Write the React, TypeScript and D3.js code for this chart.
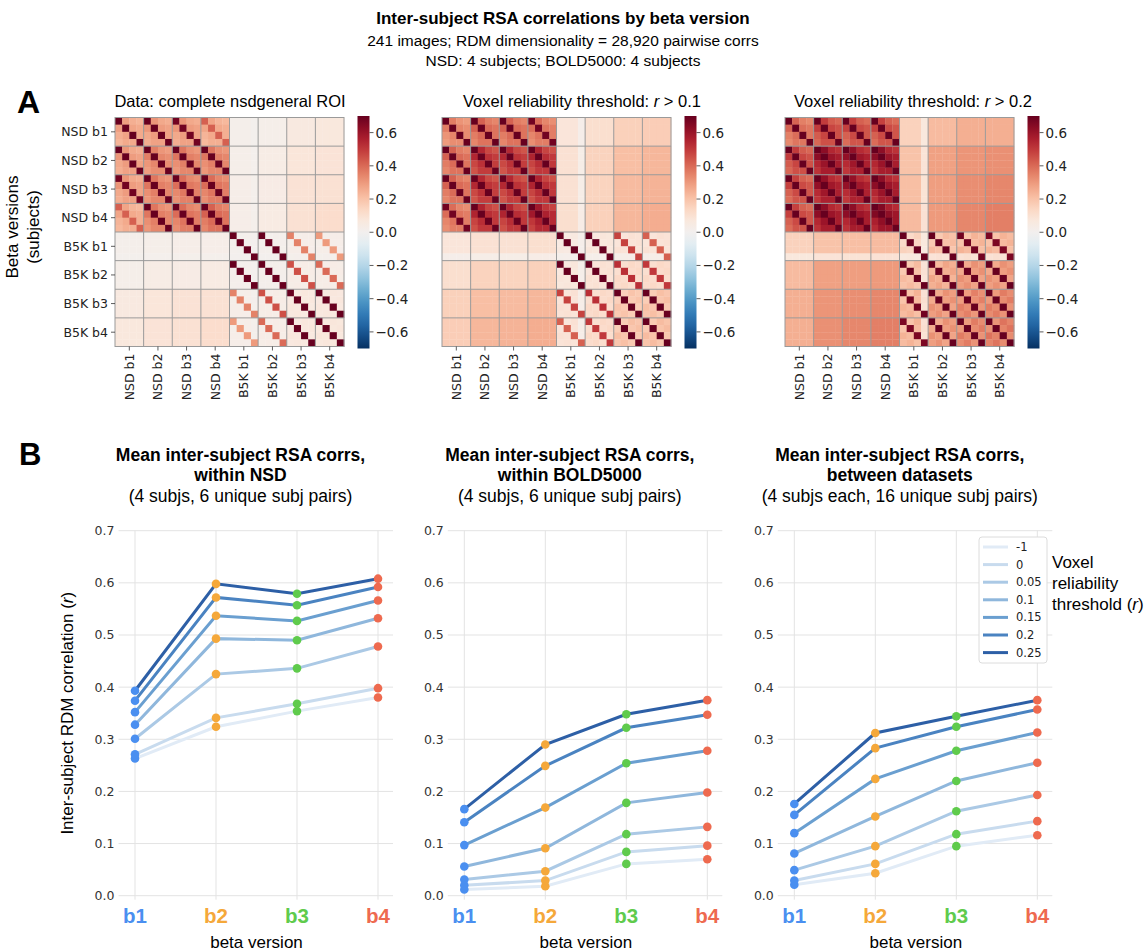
import React from "react";
import * as d3 from "d3";

// ---------- data ----------
const GROUPS = ["NSD b1", "NSD b2", "NSD b3", "NSD b4", "B5K b1", "B5K b2", "B5K b3", "B5K b4"];
const N_SUBJ = 4;
const CBAR_TICKS = [0.6, 0.4, 0.2, 0.0, -0.2, -0.4, -0.6];

// mean inter-subject corr per block (rows/cols = GROUPS)
const OFF_FULL = [
  [0.263, 0.28, 0.28, 0.25, 0.02, 0.025, 0.06, 0.07],
  [0.28, 0.324, 0.34, 0.34, 0.025, 0.043, 0.08, 0.09],
  [0.28, 0.34, 0.354, 0.36, 0.03, 0.045, 0.095, 0.1],
  [0.25, 0.34, 0.36, 0.38, 0.03, 0.05, 0.1, 0.116],
  [0.02, 0.025, 0.03, 0.03, 0.012, 0.015, 0.03, 0.03],
  [0.025, 0.043, 0.045, 0.05, 0.015, 0.018, 0.035, 0.035],
  [0.06, 0.08, 0.095, 0.1, 0.03, 0.035, 0.061, 0.065],
  [0.07, 0.09, 0.1, 0.116, 0.03, 0.035, 0.065, 0.07],
];
const OFF_R01 = [
  [0.328, 0.38, 0.38, 0.36, 0.081, 0.11, 0.16, 0.17],
  [0.38, 0.493, 0.49, 0.5, 0.1, 0.152, 0.21, 0.23],
  [0.38, 0.49, 0.49, 0.5, 0.1, 0.15, 0.22, 0.24],
  [0.36, 0.5, 0.5, 0.532, 0.11, 0.16, 0.23, 0.255],
  [0.081, 0.1, 0.1, 0.11, 0.056, 0.07, 0.09, 0.09],
  [0.11, 0.152, 0.15, 0.16, 0.07, 0.091, 0.12, 0.12],
  [0.16, 0.21, 0.22, 0.23, 0.09, 0.12, 0.178, 0.19],
  [0.17, 0.23, 0.24, 0.255, 0.09, 0.12, 0.19, 0.198],
];
const OFF_R02 = [
  [0.374, 0.45, 0.44, 0.44, 0.155, 0.22, 0.25, 0.25],
  [0.45, 0.572, 0.56, 0.57, 0.2, 0.283, 0.31, 0.32],
  [0.44, 0.56, 0.557, 0.57, 0.21, 0.29, 0.324, 0.34],
  [0.44, 0.57, 0.57, 0.592, 0.22, 0.3, 0.34, 0.357],
  [0.155, 0.2, 0.21, 0.22, 0.141, 0.2, 0.22, 0.22],
  [0.22, 0.283, 0.29, 0.3, 0.2, 0.249, 0.29, 0.29],
  [0.25, 0.31, 0.324, 0.34, 0.22, 0.29, 0.322, 0.33],
  [0.25, 0.32, 0.34, 0.357, 0.22, 0.29, 0.33, 0.347],
];
// same-subject corr across beta versions (within a dataset)
const SAME_FULL = [
  [1, 0.75, 0.68, 0.42, 0, 0, 0, 0],
  [0.75, 1, 0.75, 0.75, 0, 0, 0, 0],
  [0.68, 0.75, 1, 0.75, 0, 0, 0, 0],
  [0.42, 0.75, 0.75, 1, 0, 0, 0, 0],
  [0, 0, 0, 0, 1, 0.75, 0.35, 0.3],
  [0, 0, 0, 0, 0.75, 1, 0.45, 0.4],
  [0, 0, 0, 0, 0.35, 0.45, 1, 0.75],
  [0, 0, 0, 0, 0.3, 0.4, 0.75, 1],
];
const SAME_R01 = [
  [1, 0.75, 0.75, 0.68, 0, 0, 0, 0],
  [0.75, 1, 0.75, 0.75, 0, 0, 0, 0],
  [0.75, 0.75, 1, 0.75, 0, 0, 0, 0],
  [0.68, 0.75, 0.75, 1, 0, 0, 0, 0],
  [0, 0, 0, 0, 1, 0.75, 0.48, 0.42],
  [0, 0, 0, 0, 0.75, 1, 0.52, 0.5],
  [0, 0, 0, 0, 0.48, 0.52, 1, 0.75],
  [0, 0, 0, 0, 0.42, 0.5, 0.75, 1],
];
const SAME_R02 = [
  [1, 0.75, 0.75, 0.75, 0, 0, 0, 0],
  [0.75, 1, 0.75, 0.75, 0, 0, 0, 0],
  [0.75, 0.75, 1, 0.75, 0, 0, 0, 0],
  [0.75, 0.75, 0.75, 1, 0, 0, 0, 0],
  [0, 0, 0, 0, 1, 0.75, 0.68, 0.66],
  [0, 0, 0, 0, 0.75, 1, 0.72, 0.72],
  [0, 0, 0, 0, 0.68, 0.72, 1, 0.75],
  [0, 0, 0, 0, 0.66, 0.72, 0.75, 1],
];
// subject pair scaling of inter-subject corrs
const NSD_PAIR = [
  [1, 1.1, 0.95, 0.9],
  [1.1, 1, 1.05, 1.0],
  [0.95, 1.05, 1, 1.0],
  [0.9, 1.0, 1.0, 1],
];
const B5K_PAIR = [
  [1, 0.9, 1.1, 1.0],
  [0.9, 1, 1.0, 1.1],
  [1.1, 1.0, 1, 0.95],
  [1.0, 1.1, 0.95, 1],
];
// one weaker subject (B5K b1, subj 4)
const WEAK_IDX = 19;
const WEAK_FACTOR = [0.5, 0.35, 0.45];

const HEAT_TITLES = ["Data: complete nsdgeneral ROI", "0.1", "0.2"];

const BETAS = ["b1", "b2", "b3", "b4"];
const BETA_COLORS = ["#4a8ff0", "#f5a83a", "#5fcb4c", "#ee6a4f"];
const THRESHOLDS = ["-1", "0", "0.05", "0.1", "0.15", "0.2", "0.25"];
const THRESH_COLORS = ["#e1ebf6", "#c8dbee", "#abc9e5", "#8fb7dc", "#6a9fd0", "#4a83c1", "#2d5fa6"];
const Y_TICKS = [0, 0.1, 0.2, 0.3, 0.4, 0.5, 0.6, 0.7];

const NSD_CORRS = [
  [0.263, 0.324, 0.354, 0.38],
  [0.271, 0.341, 0.368, 0.398],
  [0.301, 0.425, 0.436, 0.478],
  [0.328, 0.493, 0.49, 0.532],
  [0.352, 0.537, 0.527, 0.566],
  [0.374, 0.572, 0.557, 0.592],
  [0.393, 0.598, 0.579, 0.608],
];
const B5K_CORRS = [
  [0.012, 0.018, 0.061, 0.07],
  [0.02, 0.029, 0.084, 0.096],
  [0.031, 0.047, 0.118, 0.132],
  [0.056, 0.091, 0.178, 0.198],
  [0.097, 0.169, 0.254, 0.278],
  [0.141, 0.249, 0.322, 0.347],
  [0.166, 0.29, 0.348, 0.375],
];
const BETWEEN_CORRS = [
  [0.021, 0.043, 0.095, 0.116],
  [0.029, 0.061, 0.118, 0.143],
  [0.049, 0.095, 0.162, 0.193],
  [0.081, 0.152, 0.22, 0.255],
  [0.12, 0.224, 0.278, 0.313],
  [0.155, 0.283, 0.324, 0.357],
  [0.176, 0.312, 0.344, 0.375],
];

// ---------- styling ----------
const SANS = "'Liberation Sans', Arial, Helvetica, sans-serif";
const MPL = "'DejaVu Sans', sans-serif";
const HEAT_TOP = 117.5;
const HEAT_SIZE = 229;
const VMAX = 0.7;

const color = (v: number) => d3.interpolateRdBu(1 - (Math.max(-VMAX, Math.min(VMAX, v)) + VMAX) / (2 * VMAX));

function buildCells(off: number[][], same: number[][], weak: number) {
  const n = GROUPS.length * N_SUBJ;
  const cells: { i: number; j: number; v: number }[] = [];
  for (let i = 0; i < n; i++) {
    for (let j = 0; j < n; j++) {
      const gi = Math.floor(i / N_SUBJ), gj = Math.floor(j / N_SUBJ);
      const si = i % N_SUBJ, sj = j % N_SUBJ;
      const sameSet = gi < 4 === gj < 4;
      let v: number;
      if (sameSet && si === sj) v = same[gi][gj];
      else {
        v = off[gi][gj];
        if (sameSet) v *= (gi < 4 ? NSD_PAIR : B5K_PAIR)[si][sj];
        if (i === WEAK_IDX || j === WEAK_IDX) v *= weak;
      }
      cells.push({ i, j, v });
    }
  }
  return cells;
}

function Heatmap({ x0, idx, off, same, showY }: { x0: number; idx: number; off: number[][]; same: number[][]; showY: boolean }) {
  const n = GROUPS.length * N_SUBJ;
  const band = d3.scaleBand<number>().domain(d3.range(n)).range([0, HEAT_SIZE]);
  const grp = d3.scaleBand<string>().domain(GROUPS).range([0, HEAT_SIZE]);
  const cells = buildCells(off, same, WEAK_FACTOR[idx]);
  const cbX = x0 + 242.5;
  const cbTop = 116, cbBot = 348.5;
  const cbScale = d3.scaleLinear().domain([-VMAX, VMAX]).range([cbBot, cbTop]);
  const gradId = `cb${idx}`;
  const titleX = [230, 582, 913][idx];
  return (
    <g>
      <text x={titleX} y={107} textAnchor="middle" fontSize={16.5} fontFamily={SANS}>
        {idx === 0 ? (
          HEAT_TITLES[0]
        ) : (
          <>
            Voxel reliability threshold: <tspan fontStyle="italic">r</tspan> {">"} {HEAT_TITLES[idx]}
          </>
        )}
      </text>
      <g transform={`translate(${x0},${HEAT_TOP})`}>
        {cells.map((c) => (
          <rect
            key={`${c.i}-${c.j}`}
            x={band(c.j)}
            y={band(c.i)}
            width={band.bandwidth() + 0.3}
            height={band.bandwidth() + 0.3}
            fill={c.i === c.j ? color(1) : color(c.v)}
          />
        ))}
        {GROUPS.slice(1).map((g) => (
          <g key={g} stroke="#9a9a9a" strokeWidth={1}>
            <line x1={0} x2={HEAT_SIZE} y1={grp(g)} y2={grp(g)} />
            <line y1={0} y2={HEAT_SIZE} x1={grp(g)} x2={grp(g)} />
          </g>
        ))}
        <rect width={HEAT_SIZE} height={HEAT_SIZE} fill="none" stroke="#9a9a9a" strokeWidth={1} />
        {GROUPS.map((g) => {
          const c = grp(g)! + grp.bandwidth() / 2;
          return (
            <g key={g}>
              <line x1={c} x2={c} y1={HEAT_SIZE} y2={HEAT_SIZE + 4} stroke="#333" strokeWidth={0.8} />
              <text
                transform={`translate(${c},${HEAT_SIZE + 7}) rotate(-90)`}
                textAnchor="end"
                dominantBaseline="central"
                fontSize={12.5}
                fontFamily={MPL}
                fill="#222"
              >
                {g}
              </text>
              {showY && (
                <>
                  <line x1={-4} x2={0} y1={c} y2={c} stroke="#333" strokeWidth={0.8} />
                  <text x={-7} y={c} textAnchor="end" dominantBaseline="central" fontSize={12.5} fontFamily={MPL} fill="#222">
                    {g}
                  </text>
                </>
              )}
            </g>
          );
        })}
      </g>
      <defs>
        <linearGradient id={gradId} x1="0" y1="1" x2="0" y2="0">
          {d3.range(0, 1.0001, 0.05).map((t) => (
            <stop key={t} offset={t} stopColor={color(-VMAX + t * 2 * VMAX)} />
          ))}
        </linearGradient>
      </defs>
      <rect x={cbX} y={cbTop} width={12} height={cbBot - cbTop} fill={`url(#${gradId})`} />
      {CBAR_TICKS.map((t) => (
        <g key={t}>
          <line x1={cbX + 12} x2={cbX + 16} y1={cbScale(t)} y2={cbScale(t)} stroke="#333" strokeWidth={0.8} />
          <text x={cbX + 18} y={cbScale(t)} dominantBaseline="central" fontSize={13.5} fontFamily={MPL} fill="#222">
            {t < 0 ? `\u2212${Math.abs(t).toFixed(1)}` : t.toFixed(1)}
          </text>
        </g>
      ))}
    </g>
  );
}

function LineChart({
  x0,
  data,
  titles,
  showYLabel,
  showLegend,
}: {
  x0: number;
  data: number[][];
  titles: string[];
  showYLabel: boolean;
  showLegend: boolean;
}) {
  const x = d3.scalePoint<string>().domain(BETAS).range([x0, x0 + 243]);
  const y = d3.scaleLinear().domain([0, 0.7]).range([895.7, 530.7]);
  const line = d3
    .line<number>()
    .x((_, i) => x(BETAS[i])!)
    .y((d) => y(d));
  const gl = x0 - 16.5, gr = x0 + 243 + 15;
  const cx = (x0 + x0 + 243) / 2;
  return (
    <g>
      <text x={cx - 16} y={461} textAnchor="middle" fontSize={17.5} fontWeight="bold" fontFamily={SANS}>
        {titles[0]}
      </text>
      <text x={cx - 16} y={481} textAnchor="middle" fontSize={17.5} fontWeight="bold" fontFamily={SANS}>
        {titles[1]}
      </text>
      <text x={cx - 16} y={502} textAnchor="middle" fontSize={17.5} fontFamily={SANS}>
        {titles[2]}
      </text>
      {Y_TICKS.map((t) => (
        <g key={t}>
          <line x1={gl} x2={gr} y1={y(t)} y2={y(t)} stroke="#e3e3e3" strokeWidth={1} />
          <text x={gl - 4} y={y(t)} textAnchor="end" dominantBaseline="central" fontSize={12.5} fontFamily={MPL} fill="#333">
            {t.toFixed(1)}
          </text>
        </g>
      ))}
      {BETAS.map((b, i) => (
        <g key={b}>
          <line x1={x(b)} x2={x(b)} y1={y(0.7)} y2={y(0) + 4} stroke="#e3e3e3" strokeWidth={1} />
          <text x={x(b)} y={923} textAnchor="middle" fontSize={20.5} fontWeight="bold" fontFamily={SANS} fill={BETA_COLORS[i]}>
            {b}
          </text>
        </g>
      ))}
      <text x={cx} y={948} textAnchor="middle" fontSize={17} fontFamily={SANS}>
        beta version
      </text>
      {showYLabel && (
        <text
          transform={`translate(67,${(y(0) + y(0.7)) / 2}) rotate(-90)`}
          textAnchor="middle"
          dominantBaseline="central"
          fontSize={17}
          fontFamily={SANS}
        >
          Inter-subject RDM correlation (<tspan fontStyle="italic">r</tspan>)
        </text>
      )}
      {data.map((s, k) => (
        <path key={k} d={line(s)!} fill="none" stroke={THRESH_COLORS[k]} strokeWidth={3} strokeLinecap="round" />
      ))}
      {data.map((s, k) =>
        s.map((v, i) => <circle key={`${k}-${i}`} cx={x(BETAS[i])} cy={y(v)} r={4.3} fill={BETA_COLORS[i]} />)
      )}
      {showLegend && (
        <g>
          <rect x={979} y={537} width={68} height={126} rx={3} fill="#fff" stroke="#dcdcdc" strokeWidth={1} />
          {THRESHOLDS.map((t, k) => {
            const ly = 547 + k * 17.6;
            return (
              <g key={t}>
                <line x1={983} x2={1008} y1={ly} y2={ly} stroke={THRESH_COLORS[k]} strokeWidth={3} />
                <text x={1016} y={ly} dominantBaseline="central" fontSize={11.5} fontFamily={MPL} fill="#222">
                  {t}
                </text>
              </g>
            );
          })}
          <text x={1052} fontSize={17} fontFamily={SANS}>
            <tspan x={1052} y={568}>Voxel</tspan>
            <tspan x={1052} y={589}>reliability</tspan>
            <tspan x={1052} y={610}>
              threshold (<tspan fontStyle="italic">r</tspan>)
            </tspan>
          </text>
        </g>
      )}
    </g>
  );
}

export default function App() {
  return (
    <svg width={1146} height={951} style={{ position: "absolute", left: 0, top: 0 }} fontFamily={SANS}>
      <rect width={1146} height={951} fill="#fff" />
      <text x={563} y={24} textAnchor="middle" fontSize={17} fontWeight="bold">
        Inter-subject RSA correlations by beta version
      </text>
      <text x={563} y={46} textAnchor="middle" fontSize={15.5}>
        241 images; RDM dimensionality = 28,920 pairwise corrs
      </text>
      <text x={563} y={66} textAnchor="middle" fontSize={15.5}>
        NSD: 4 subjects; BOLD5000: 4 subjects
      </text>

      <text x={17} y={113} fontSize={32} fontWeight="bold">
        A
      </text>
      <text transform="translate(18,227) rotate(-90)" textAnchor="middle" fontSize={17}>
        Beta versions
      </text>
      <text transform="translate(39,227) rotate(-90)" textAnchor="middle" fontSize={17}>
        (subjects)
      </text>
      <Heatmap x0={115} idx={0} off={OFF_FULL} same={SAME_FULL} showY />
      <Heatmap x0={442} idx={1} off={OFF_R01} same={SAME_R01} showY={false} />
      <Heatmap x0={785} idx={2} off={OFF_R02} same={SAME_R02} showY={false} />

      <text x={19} y={465} fontSize={31} fontWeight="bold">
        B
      </text>
      <LineChart
        x0={135}
        data={NSD_CORRS}
        titles={["Mean inter-subject RSA corrs,", "within NSD", "(4 subjs, 6 unique subj pairs)"]}
        showYLabel
        showLegend={false}
      />
      <LineChart
        x0={464.3}
        data={B5K_CORRS}
        titles={["Mean inter-subject RSA corrs,", "within BOLD5000", "(4 subjs, 6 unique subj pairs)"]}
        showYLabel={false}
        showLegend={false}
      />
      <LineChart
        x0={794.3}
        data={BETWEEN_CORRS}
        titles={["Mean inter-subject RSA corrs,", "between datasets", "(4 subjs each, 16 unique subj pairs)"]}
        showYLabel={false}
        showLegend
      />
    </svg>
  );
}
